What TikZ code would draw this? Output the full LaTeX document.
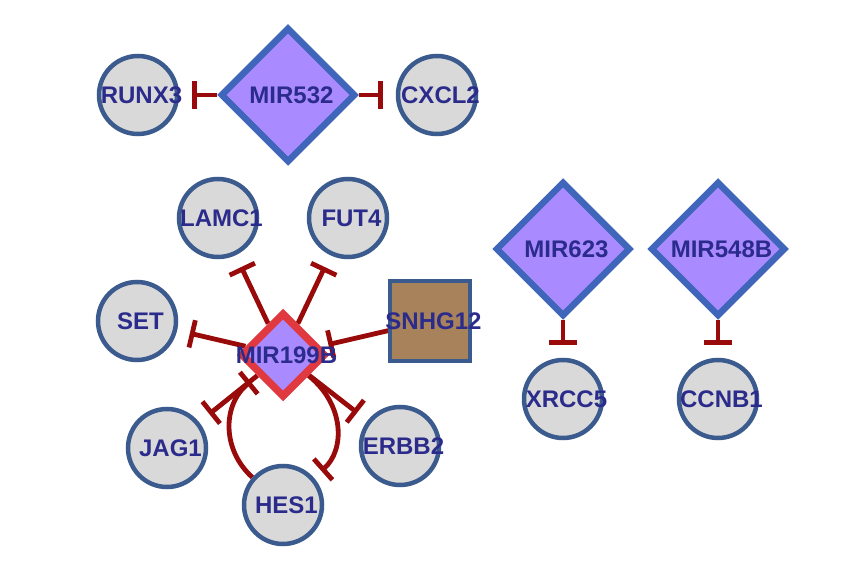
\documentclass[tikz,border=0pt]{standalone}
\usepackage{fontspec}
\setmainfont{Liberation Sans}
\usetikzlibrary{shapes.geometric,arrows.meta}
\definecolor{genefill}{HTML}{D9D9D9}
\definecolor{genedraw}{HTML}{3B5A8E}
\definecolor{mirfill}{HTML}{A98AFF}
\definecolor{mirdraw}{HTML}{3F66BA}
\definecolor{hubdraw}{HTML}{E03A40}
\definecolor{lncfill}{HTML}{A8825A}
\definecolor{edgecol}{HTML}{990A0A}
\definecolor{txtcol}{HTML}{2B2B8C}
\pgfdeclarelayer{bg}
\pgfsetlayers{bg,main}
\newcommand\ctxt[1]{\makebox[0pt]{\kern7pt#1}}
\tikzset{
  lbl/.style={font=\bfseries\fontsize{24}{24}\selectfont, text=txtcol},
  gene/.style={circle, draw=genedraw, line width=4.5pt, fill=genefill, minimum size=78pt, inner sep=0pt, lbl},
  mirna/.style={diamond, draw=mirdraw, line width=6.5pt, fill=mirfill, minimum size=135pt, inner sep=0pt, lbl},
  hub/.style={diamond, draw=hubdraw, line width=7.5pt, fill=mirfill, minimum size=85pt, inner sep=0pt, lbl},
  lnc/.style={rectangle, draw=genedraw, line width=3.5pt, fill=lncfill, minimum size=80pt, inner sep=0pt, lbl},
  inh/.style={draw=edgecol, line width=4.8pt, -{Bar[width=28pt]}, shorten >=13pt}
}
\begin{document}
\begin{tikzpicture}[x=1pt,y=-1pt]
\useasboundingbox (0,0) rectangle (841,569);
% nodes
\node[mirna] (mir532) at (288,95) {\ctxt{MIR532}};
\node[gene] (runx3) at (138,95) {\ctxt{RUNX3}};
\node[gene] (cxcl2) at (437,95) {\ctxt{CXCL2}};
\node[gene] (lamc1) at (218,218) {\ctxt{LAMC1}};
\node[gene] (fut4) at (348,218) {\ctxt{FUT4}};
\node[gene] (set) at (137,321) {\ctxt{SET}};
\node[lnc] (snhg12) at (430,321) {\ctxt{SNHG12}};
\node[gene] (jag1) at (167,448) {\ctxt{JAG1}};
\node[gene] (hes1) at (283,505) {\ctxt{HES1}};
\node[gene] (erbb2) at (400,446) {\ctxt{ERBB2}};
\node[hub] (mir199b) at (283,355) {\ctxt{MIR199B}};
\node[mirna] (mir623) at (563,249) {\ctxt{MIR623}};
\node[mirna] (mir548b) at (718,249) {\ctxt{MIR548B}};
\node[gene] (xrcc5) at (563,399) {\ctxt{XRCC5}};
\node[gene] (ccnb1) at (718,399) {\ctxt{CCNB1}};
% edges
\begin{pgfonlayer}{bg}
\draw[inh] (mir532) -- (runx3);
\draw[inh] (mir532) -- (cxcl2);
\draw[inh] (mir199b) -- (lamc1);
\draw[inh] (mir199b) -- (fut4);
\draw[inh] (mir199b) -- (set);
\draw[inh] (mir199b) -- (jag1);
\draw[inh] (mir199b) -- (erbb2);
\draw[inh, shorten >=8pt] (snhg12) -- (mir199b);
\draw[inh, shorten >=9pt] (hes1) .. controls (222,450) and (222,405) .. (mir199b);
\draw[inh, shorten >=10pt] (mir199b) .. controls (345,405) and (345,450) .. (hes1);
\draw[inh] (mir623) -- (xrcc5);
\draw[inh] (mir548b) -- (ccnb1);
\end{pgfonlayer}
\end{tikzpicture}
\end{document}
